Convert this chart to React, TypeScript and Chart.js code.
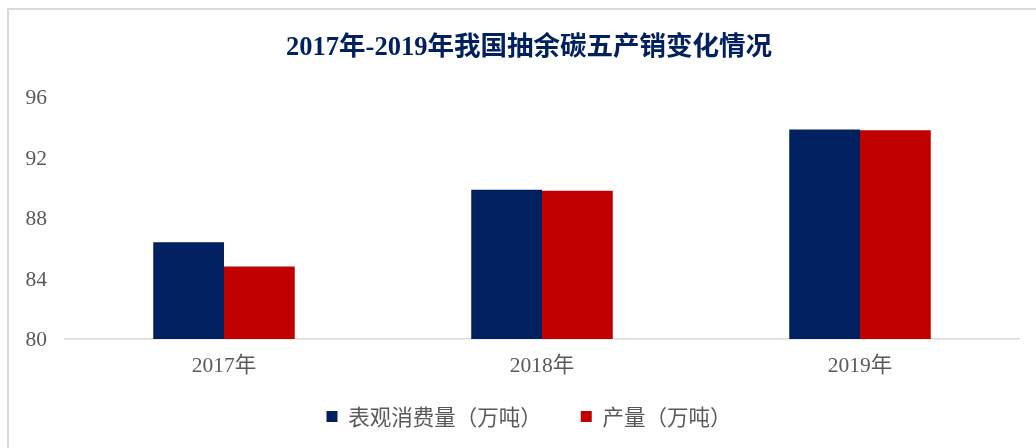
import React, { useEffect, useRef } from "react";
import { Chart, registerables } from "chart.js";

Chart.register(...registerables);

const categories = ["2017年", "2018年", "2019年"];
const consumption = [86.4, 89.87, 93.85];
const production = [84.8, 89.8, 93.8];
const seriesNames = ["表观消费量（万吨）", "产量（万吨）"];
const titleText = "2017年-2019年我国抽余碳五产销变化情况";

const serif = "'Times New Roman', 'Liberation Serif', 'Noto Sans CJK SC', serif";
const cjk = "'Noto Sans CJK SC', 'Liberation Serif', sans-serif";

const unclipLabels = {
  id: "unclipLabels",
  afterLayout(chart: any) {
    const x = chart.scales.x;
    const y = chart.scales.y;
    if (y) y.left = 0;
    if (x) x.bottom = chart.height;
  },
};

export default function App() {
  const ref = useRef<HTMLCanvasElement | null>(null);

  useEffect(() => {
    if (!ref.current) return;
    const chart = new Chart(ref.current, {
      type: "bar",
      data: {
        labels: categories,
        datasets: [
          {
            label: seriesNames[0],
            data: consumption,
            backgroundColor: "#002060",
            borderWidth: 0,
            categoryPercentage: 0.445,
            barPercentage: 1,
          },
          {
            label: seriesNames[1],
            data: production,
            backgroundColor: "#C00000",
            borderWidth: 0,
            categoryPercentage: 0.445,
            barPercentage: 1,
          },
        ],
      },
      options: {
        responsive: false,
        animation: false,
        layout: { padding: { left: 39, right: 17, top: 0, bottom: 10.75 } },
        plugins: {
          title: {
            display: true,
            text: titleText,
            color: "#002060",
            font: { family: serif, size: 26.5, weight: "bold" },
            padding: { top: 32.1, bottom: 33.1 },
          },
          legend: {
            position: "bottom",
            labels: {
              boxWidth: 11,
              boxHeight: 11,
              padding: 39,
              color: "#595959",
              font: { family: cjk, size: 21.5 },
            },
          },
          tooltip: { enabled: false },
        },
        scales: {
          x: {
            grid: { display: false, drawTicks: false },
            border: { display: true, color: "#d9d9d9", width: 1.5 },
            ticks: {
              color: "#595959",
              font: { family: serif, size: 21.5 },
              padding: 14.6,
            },
            afterFit: (scale: any) => {
              scale.height = 27.75;
            },
          },
          y: {
            min: 80,
            max: 96,
            grid: { display: false, drawTicks: false },
            border: { display: false },
            ticks: {
              stepSize: 4,
              color: "#595959",
              font: { family: serif, size: 21.5 },
              padding: 18,
              labelOffset: 1.5,
            },
            afterFit: (scale: any) => {
              scale.width = 26;
            },
          },
        },
      },
      plugins: [unclipLabels],
    } as any);
    return () => chart.destroy();
  }, []);

  return (
    <div
      style={{
        position: "fixed",
        left: 0,
        top: 0,
        width: 1036,
        height: 448,
        overflow: "hidden",
        background: "#fff",
      }}
    >
      <div
        style={{
          position: "absolute",
          left: 7,
          top: 8,
          width: 1200,
          height: 600,
          borderTop: "2px solid #d9d9d9",
          borderLeft: "2px solid #d9d9d9",
        }}
      />
      <canvas
        ref={ref}
        width={1036}
        height={448}
        style={{ position: "absolute", left: 0, top: 0, width: 1036, height: 448 }}
      />
    </div>
  );
}
